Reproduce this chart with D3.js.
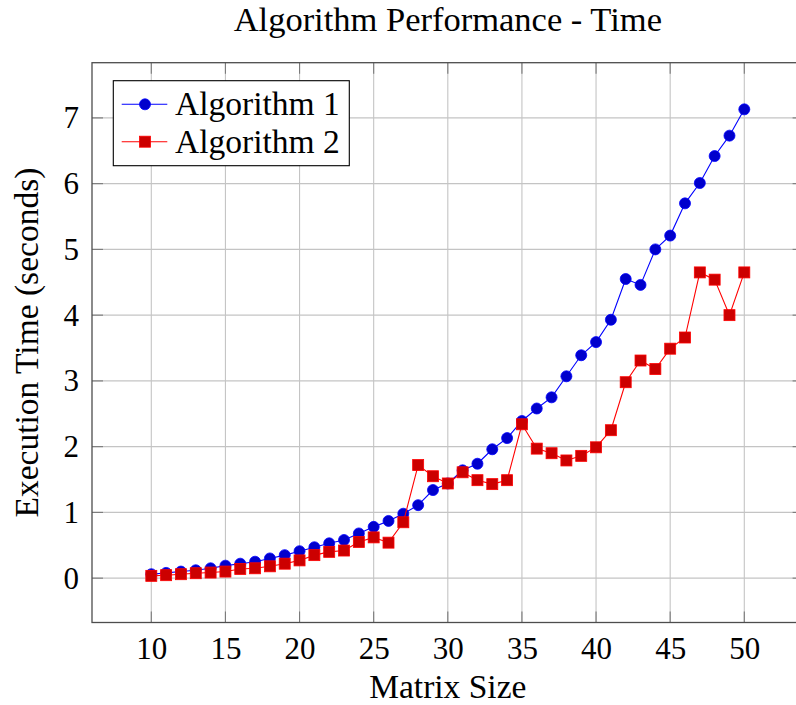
<!DOCTYPE html>
<html>
<head>
<meta charset="utf-8">
<script src="https://cdn.jsdelivr.net/npm/d3@7"></script>
<style>
  html, body { margin: 0; padding: 0; background: #fff; }
  svg { display: block; }
  svg text { font-family: "Liberation Serif", "Times New Roman", "DejaVu Serif", serif !important; fill: #000; }
</style>
</head>
<body>
<div id="chart"></div>
<script>
// data
const matrixSizes = [10, 11, 12, 13, 14, 15, 16, 17, 18, 19, 20, 21, 22, 23, 24, 25, 26, 27, 28, 29, 30,
  31, 32, 33, 34, 35, 36, 37, 38, 39, 40, 41, 42, 43, 44, 45, 46, 47, 48, 49, 50];
const algorithm1 = [0.06, 0.08, 0.1, 0.12, 0.15, 0.19, 0.22, 0.25, 0.3, 0.35, 0.41, 0.47, 0.53, 0.58,
  0.68, 0.78, 0.87, 0.98, 1.11, 1.34, 1.44, 1.64, 1.74, 1.96, 2.13, 2.39, 2.58, 2.75, 3.07, 3.39,
  3.59, 3.93, 4.55, 4.46, 5.0, 5.21, 5.7, 6.01, 6.42, 6.73, 7.13];
const algorithm2 = [0.035, 0.045, 0.06, 0.075, 0.085, 0.1, 0.14, 0.15, 0.18, 0.22, 0.27, 0.35, 0.4,
  0.42, 0.55, 0.62, 0.54, 0.85, 1.72, 1.55, 1.44, 1.61, 1.49, 1.43, 1.49, 2.34, 1.97, 1.9, 1.79,
  1.86, 1.99, 2.25, 2.98, 3.31, 3.18, 3.49, 3.66, 4.65, 4.54, 4.0, 4.65];
const seriesNames = ['Algorithm 1', 'Algorithm 2'];
const xTicks = [10, 15, 20, 25, 30, 35, 40, 45, 50];
const yTicks = [0, 1, 2, 3, 4, 5, 6, 7];

const width = 796;
const height = 705;
const box = { left: 92, right: 803.6, top: 62.7, bottom: 622.5 };
const tickLen = 11;
const serif = '"Liberation Serif", "Times New Roman", "DejaVu Serif", serif';

const svg = d3.select('#chart')
  .append('svg')
  .attr('width', width)
  .attr('height', height)
  .attr('font-family', serif);

// pgfplots style 10% enlargement of the limits
function enlarged(ext) {
  const pad = (ext[1] - ext[0]) * 0.1;
  return [ext[0] - pad, ext[1] + pad];
}

const x = d3.scaleLinear()
  .domain(enlarged(d3.extent(matrixSizes)))
  .range([box.left, box.right]);

const y = d3.scaleLinear()
  .domain(enlarged(d3.extent(algorithm1.concat(algorithm2))))
  .range([box.bottom, box.top]);

// grid
const grid = svg.append('g').attr('stroke', '#c4c4c4').attr('stroke-width', 1.1);
grid.selectAll('.vgrid')
  .data(xTicks)
  .enter()
  .append('line')
  .attr('x1', d => x(d))
  .attr('x2', d => x(d))
  .attr('y1', box.top)
  .attr('y2', box.bottom);
grid.selectAll('.hgrid')
  .data(yTicks)
  .enter()
  .append('line')
  .attr('x1', box.left)
  .attr('x2', box.right)
  .attr('y1', d => y(d))
  .attr('y2', d => y(d));

// inner tick marks on all four sides
const ticks = svg.append('g').attr('stroke', '#7a7a7a').attr('stroke-width', 1.1);
[box.bottom, box.top].forEach((edge, k) => {
  ticks.selectAll(null)
    .data(xTicks)
    .enter()
    .append('line')
    .attr('x1', d => x(d))
    .attr('x2', d => x(d))
    .attr('y1', edge)
    .attr('y2', k === 0 ? edge - tickLen : edge + tickLen);
});
[box.left, box.right].forEach((edge, k) => {
  ticks.selectAll(null)
    .data(yTicks)
    .enter()
    .append('line')
    .attr('y1', d => y(d))
    .attr('y2', d => y(d))
    .attr('x1', edge)
    .attr('x2', k === 0 ? edge + tickLen : edge - tickLen);
});

// axes for the labels only
const xAxis = d3.axisBottom(x).tickValues(xTicks).tickSize(0).tickPadding(14);
svg.append('g')
  .attr('transform', `translate(0, ${box.bottom})`)
  .call(xAxis)
  .call(g => g.select('.domain').remove())
  .call(g => g.attr('font-family', serif).attr('font-size', 31));

const yAxis = d3.axisLeft(y).tickValues(yTicks).tickSize(0).tickPadding(13);
svg.append('g')
  .attr('transform', `translate(${box.left}, 0)`)
  .call(yAxis)
  .call(g => g.select('.domain').remove())
  .call(g => g.attr('font-family', serif).attr('font-size', 31));

// frame
svg.append('rect')
  .attr('x', box.left)
  .attr('y', box.top)
  .attr('width', box.right - box.left)
  .attr('height', box.bottom - box.top)
  .attr('fill', 'none')
  .attr('stroke', '#4d4d4d')
  .attr('stroke-width', 1.3);

// series
const line = d3.line()
  .x((d, i) => x(matrixSizes[i]))
  .y(d => y(d));

svg.append('path')
  .datum(algorithm1)
  .attr('d', line)
  .attr('fill', 'none')
  .attr('stroke', '#0000ff')
  .attr('stroke-width', 1.1);

svg.selectAll('.dot1')
  .data(algorithm1)
  .enter()
  .append('circle')
  .attr('cx', (d, i) => x(matrixSizes[i]))
  .attr('cy', d => y(d))
  .attr('r', 5.5)
  .attr('fill', '#0000cc')
  .attr('stroke', '#0000ff')
  .attr('stroke-width', 0.8);

svg.append('path')
  .datum(algorithm2)
  .attr('d', line)
  .attr('fill', 'none')
  .attr('stroke', '#ff0000')
  .attr('stroke-width', 1.1);

const sq = 11;
svg.selectAll('.dot2')
  .data(algorithm2)
  .enter()
  .append('rect')
  .attr('x', (d, i) => x(matrixSizes[i]) - sq / 2)
  .attr('y', d => y(d) - sq / 2)
  .attr('width', sq)
  .attr('height', sq)
  .attr('fill', '#cc0000')
  .attr('stroke', '#ff0000')
  .attr('stroke-width', 0.8);

// legend
const legend = svg.append('g');
legend.append('rect')
  .attr('x', 113.3)
  .attr('y', 80.7)
  .attr('width', 236)
  .attr('height', 85)
  .attr('fill', '#fff')
  .attr('stroke', '#000')
  .attr('stroke-width', 1.1);

const entries = legend.selectAll('.entry')
  .data(seriesNames)
  .enter()
  .append('g')
  .attr('transform', (d, i) => `translate(0, ${104.3 + i * 37.4})`);

entries.append('line')
  .attr('x1', 121.7)
  .attr('x2', 167.3)
  .attr('stroke', (d, i) => (i === 0 ? '#0000ff' : '#ff0000'))
  .attr('stroke-width', 1.1);

entries.filter((d, i) => i === 0)
  .append('circle')
  .attr('cx', 145)
  .attr('r', 5.5)
  .attr('fill', '#0000cc')
  .attr('stroke', '#0000ff')
  .attr('stroke-width', 0.8);

entries.filter((d, i) => i === 1)
  .append('rect')
  .attr('x', 145 - sq / 2)
  .attr('y', -sq / 2)
  .attr('width', sq)
  .attr('height', sq)
  .attr('fill', '#cc0000')
  .attr('stroke', '#ff0000')
  .attr('stroke-width', 0.8);

entries.append('text')
  .attr('x', 175)
  .attr('dy', '0.33em')
  .attr('font-size', 33.5)
  .text(d => d);

// titles
svg.append('text')
  .attr('x', (box.left + box.right) / 2)
  .attr('y', 31)
  .attr('text-anchor', 'middle')
  .attr('font-size', 34.5)
  .text('Algorithm Performance - Time');

svg.append('text')
  .attr('x', (box.left + box.right) / 2)
  .attr('y', 698)
  .attr('text-anchor', 'middle')
  .attr('font-size', 33.5)
  .text('Matrix Size');

svg.append('text')
  .attr('transform', `translate(38, ${(box.top + box.bottom) / 2}) rotate(-90)`)
  .attr('text-anchor', 'middle')
  .attr('font-size', 33.5)
  .text('Execution Time (seconds)');
</script>
</body>
</html>
